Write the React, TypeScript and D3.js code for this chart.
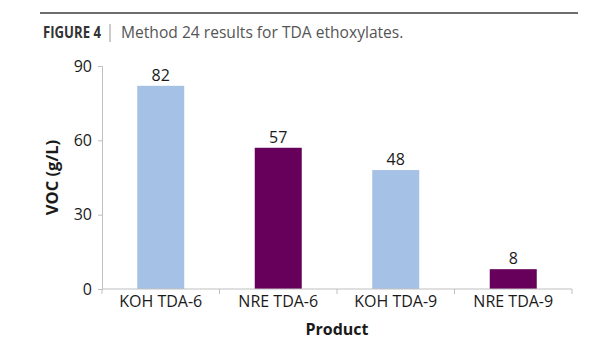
import { useEffect, useRef } from "react";
import * as d3 from "d3";

const categories = ["KOH TDA-6", "NRE TDA-6", "KOH TDA-9", "NRE TDA-9"];
const vocValues = [82, 57, 48, 8];
const barColors = ["#a6c1e6", "#66005a", "#a6c1e6", "#66005a"];
const yTicks = [0, 30, 60, 90];

export default function App() {
  const svgRef = useRef<SVGSVGElement>(null);

  useEffect(() => {
    const width = 615;
    const height = 350;
    const svg = d3.select(svgRef.current);
    svg.selectAll("*").remove();
    svg.attr("width", width).attr("height", height);

    const font = "'Open Sans', sans-serif";
    const fs = 16;

    // header rule + caption
    svg.append("line")
      .attr("x1", 40).attr("x2", 578)
      .attr("y1", 13).attr("y2", 13)
      .attr("stroke", "#6d6d6d").attr("stroke-width", 2);

    svg.append("text")
      .attr("x", 43).attr("y", 38)
      .attr("font-family", font)
      .attr("font-weight", 700)
      .attr("font-size", 16)
      .attr("fill", "#333")
      .attr("textLength", 58)
      .attr("lengthAdjust", "spacingAndGlyphs")
      .text("FIGURE 4");

    svg.append("line")
      .attr("x1", 110).attr("x2", 110)
      .attr("y1", 24).attr("y2", 42)
      .attr("stroke", "#999").attr("stroke-width", 1);

    svg.append("text")
      .attr("x", 121).attr("y", 38)
      .attr("font-family", font)
      .attr("font-size", 15.6)
      .attr("fill", "#555")
      .text("Method 24 results for TDA ethoxylates.");

    const margin = { left: 102, right: 43, top: 66, bottom: 61 };
    const x = d3.scaleBand()
      .domain(categories)
      .range([margin.left, width - margin.right])
      .paddingInner(0.6)
      .paddingOuter(0.3);
    const y = d3.scaleLinear()
      .domain([0, 90])
      .range([height - margin.bottom, margin.top]);

    const axisColor = "#bfbfbf";

    // bars
    svg.append("g")
      .selectAll("rect")
      .data(vocValues)
      .join("rect")
      .attr("x", (_, i) => x(categories[i])!)
      .attr("y", d => y(d))
      .attr("width", x.bandwidth())
      .attr("height", d => y(0) - y(d))
      .attr("fill", (_, i) => barColors[i]);

    // value labels
    svg.append("g")
      .selectAll("text")
      .data(vocValues)
      .join("text")
      .attr("x", (_, i) => x(categories[i])! + x.bandwidth() / 2)
      .attr("y", d => y(d) - 5)
      .attr("text-anchor", "middle")
      .attr("font-family", font)
      .attr("font-size", fs)
      .attr("fill", "#1a1a1a")
      .text(d => d);

    // y axis
    const yAxis = svg.append("g")
      .attr("transform", `translate(${margin.left},0)`)
      .call(d3.axisLeft(y).tickValues(yTicks).tickSize(4).tickPadding(6));
    yAxis.select(".domain").attr("stroke", axisColor);
    yAxis.selectAll(".tick line").attr("stroke", axisColor);
    yAxis.selectAll(".tick text")
      .attr("font-family", font)
      .attr("font-size", fs)
      .attr("fill", "#1a1a1a");

    // x axis
    const x0 = margin.left;
    const x1 = width - margin.right;
    const base = y(0);
    const xAxis = svg.append("g");
    xAxis.append("line")
      .attr("x1", x0).attr("x2", x1)
      .attr("y1", base).attr("y2", base)
      .attr("stroke", axisColor);
    const bounds = d3.range(categories.length + 1).map(i => x0 + i * x.step());
    xAxis.selectAll("line.tick")
      .data(bounds)
      .join("line")
      .attr("class", "tick")
      .attr("x1", d => d).attr("x2", d => d)
      .attr("y1", base).attr("y2", base + 5)
      .attr("stroke", axisColor);
    xAxis.selectAll("text")
      .data(categories)
      .join("text")
      .attr("x", d => x(d)! + x.bandwidth() / 2)
      .attr("y", base + 18)
      .attr("text-anchor", "middle")
      .attr("font-family", font)
      .attr("font-size", fs)
      .attr("fill", "#1a1a1a")
      .text(d => d);

    // axis titles
    svg.append("text")
      .attr("x", (x0 + x1) / 2)
      .attr("y", 335)
      .attr("text-anchor", "middle")
      .attr("font-family", font)
      .attr("font-weight", 700)
      .attr("font-size", 16)
      .attr("fill", "#1a1a1a")
      .text("Product");

    svg.append("text")
      .attr("transform", `translate(58,${(y(0) + y(90)) / 2}) rotate(-90)`)
      .attr("text-anchor", "middle")
      .attr("font-family", font)
      .attr("font-weight", 700)
      .attr("font-size", 16.5)
      .attr("fill", "#1a1a1a")
      .text("VOC (g/L)");
  }, []);

  return (
    <div style={{ position: "absolute", left: 0, top: 0, background: "#fff" }}>
      <svg ref={svgRef}></svg>
    </div>
  );
}
